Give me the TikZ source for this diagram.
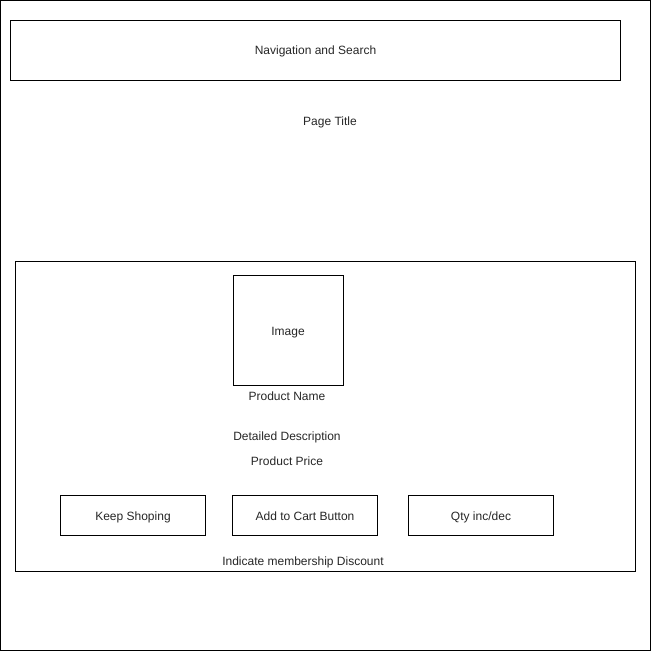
\documentclass[tikz,border=0pt]{standalone}
\usepackage{fontspec}
\setmainfont{Liberation Sans}
\begin{document}
\begin{tikzpicture}[x=1bp,y=-1bp,line width=1bp,
  txt/.style={font=\fontsize{12bp}{14bp}\selectfont,text=black!85,inner sep=0pt,text height=9bp,text depth=0bp},
  box/.style={draw=black,line width=1bp},
  lbl/.style={txt},
  btn/.style={txt,draw=black,line width=1bp,minimum width=145bp,minimum height=40bp}]
\useasboundingbox (0,0) rectangle (651,651);
% page frame
\draw[box] (0.5,0.5) rectangle (650.5,650.5);
% header bar
\node[txt,box,minimum width=610bp,minimum height=60bp] (nav) at (315.5,50.5) {Navigation and Search};
\node[lbl] (title) at (330,121) {Page Title};
% product panel
\draw[box] (15.5,261.5) rectangle (635.5,571.5);
\node[txt,box,minimum width=110bp,minimum height=110bp] (img) at (288,330.5) {Image};
\node[lbl] (pname) at (287,396) {Product Name};
\node[lbl] (desc) at (287,436) {Detailed Description};
\node[lbl] (price) at (287,461) {Product Price};
% action buttons
\node[btn] (keep) at (133,515.5) {Keep Shoping};
\node[btn] (cart) at (305,515.5) {Add to Cart Button};
\node[btn] (qty) at (481,515.5) {Qty inc/dec};
\node[lbl] (disc) at (303,561) {Indicate membership Discount};
\end{tikzpicture}
\end{document}
